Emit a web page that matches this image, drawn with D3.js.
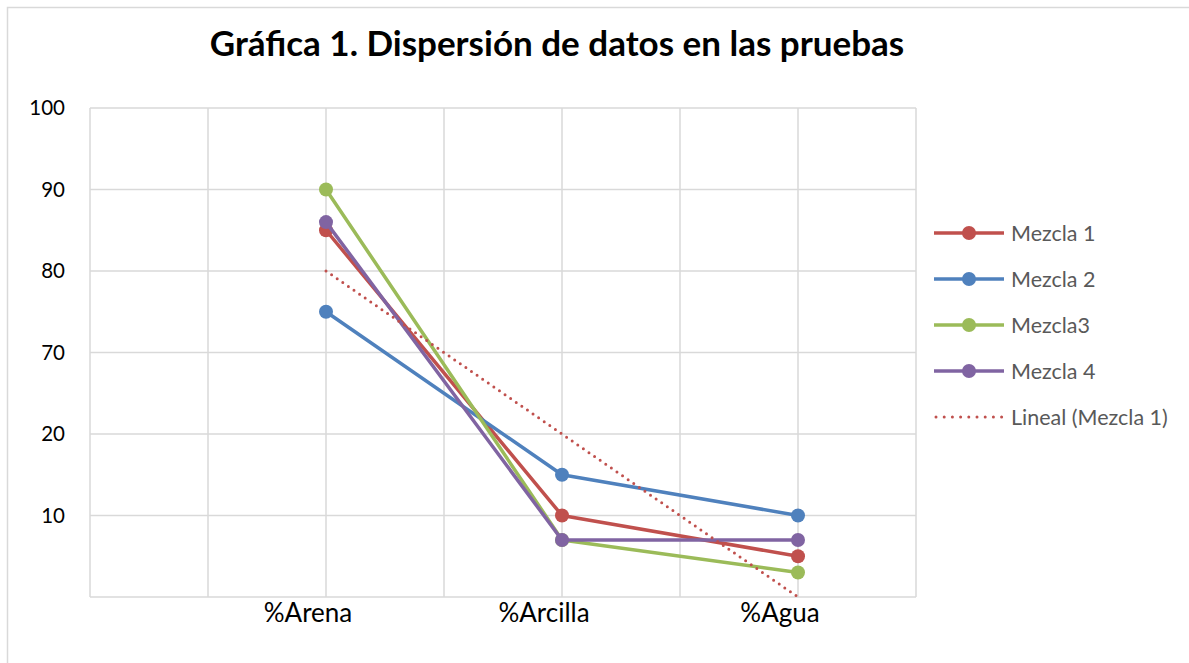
<!DOCTYPE html>
<html>
<head>
<meta charset="utf-8">
<script src="https://cdn.jsdelivr.net/npm/d3@7"></script>
<style>
  html, body { margin: 0; padding: 0; background: #fff; }
  svg { display: block; }
</style>
</head>
<body>
<svg id="chart" width="1189" height="663"></svg>
<script>
// Categories on the horizontal axis
const categories = ["%Arena", "%Arcilla", "%Agua"];

// Values per mixture
const mezcla1 = [85, 10, 5];
const mezcla2 = [75, 15, 10];
const mezcla3 = [90, 7, 3];
const mezcla4 = [86, 7, 7];

// Linear trend of Mezcla 1
const linealMezcla1 = [80, 20, 0];

// Vertical axis: unevenly valued ticks, evenly spaced
const yTicks = [0, 10, 20, 70, 80, 90, 100];
const yTickLabels = ["", "10", "20", "70", "80", "90", "100"];

const seriesNames = ["Mezcla 1", "Mezcla 2", "Mezcla3", "Mezcla 4"];
const seriesValues = [mezcla1, mezcla2, mezcla3, mezcla4];
const seriesColors = ["#C0504D", "#4F81BD", "#9BBB59", "#8064A2"];
const trendName = "Lineal (Mezcla 1)";

const svg = d3.select("#chart");
const font = "Lato, 'Open Sans', sans-serif";

const plot = { left: 90, right: 916, top: 108, bottom: 597 };

// chart frame
svg.append("rect")
  .attr("x", 7.5).attr("y", 7.5)
  .attr("width", 1200).attr("height", 700)
  .attr("fill", "#fff")
  .attr("stroke", "#D9D9D9").attr("stroke-width", 1.5);

// title
svg.append("text")
  .attr("x", 557).attr("y", 56)
  .attr("text-anchor", "middle")
  .attr("font-family", font)
  .attr("font-weight", 700)
  .attr("font-size", 35)
  .attr("fill", "#000")
  .text("Gráfica 1. Dispersión de datos en las pruebas");

// scales
const x = d3.scaleLinear().domain([-1, 2.5]).range([plot.left, plot.right]);
const y = d3.scaleLinear()
  .domain(yTicks)
  .range(yTicks.map((d, i) => plot.bottom - i * (plot.bottom - plot.top) / (yTicks.length - 1)));

// gridlines
const g = svg.append("g");
g.selectAll("line.h").data(yTicks).join("line")
  .attr("x1", plot.left).attr("x2", plot.right)
  .attr("y1", d => y(d)).attr("y2", d => y(d))
  .attr("stroke", "#D9D9D9").attr("stroke-width", 1.5);
g.selectAll("line.v").data(d3.range(-1, 2.51, 0.5)).join("line")
  .attr("x1", d => x(d)).attr("x2", d => x(d))
  .attr("y1", plot.top).attr("y2", plot.bottom)
  .attr("stroke", "#D9D9D9").attr("stroke-width", 1.5);

// y-axis labels
svg.append("g").selectAll("text").data(yTicks).join("text")
  .attr("x", 65).attr("y", d => y(d))
  .attr("dy", "0.36em")
  .attr("text-anchor", "end")
  .attr("font-family", font)
  .attr("font-size", 20.5)
  .attr("fill", "#000")
  .text((d, i) => yTickLabels[i]);

// x-axis labels
svg.append("g").selectAll("text").data(categories).join("text")
  .attr("x", (d, i) => x(i) - 18).attr("y", 622)
  .attr("text-anchor", "middle")
  .attr("font-family", font)
  .attr("font-size", 26)
  .attr("fill", "#000")
  .text(d => d);

const line = d3.line().x((d, i) => x(i)).y(d => y(d));

// series lines with markers
seriesValues.forEach((vals, s) => {
  const sg = svg.append("g");
  sg.append("path")
    .attr("d", line(vals))
    .attr("fill", "none")
    .attr("stroke", seriesColors[s])
    .attr("stroke-width", 3.5)
    .attr("stroke-linejoin", "round");
  sg.selectAll("circle").data(vals).join("circle")
    .attr("cx", (d, i) => x(i)).attr("cy", d => y(d))
    .attr("r", 7)
    .attr("fill", seriesColors[s]);
});

// dotted trend line
svg.append("path")
  .attr("d", line(linealMezcla1))
  .attr("fill", "none")
  .attr("stroke", "#C0504D")
  .attr("stroke-width", 3)
  .attr("stroke-linecap", "round")
  .attr("stroke-dasharray", "0 6.8");

// legend
const legendRows = seriesNames.map((n, i) => ({ name: n, color: seriesColors[i], trend: false }))
  .concat([{ name: trendName, color: "#C0504D", trend: true }]);
const lg = svg.append("g");
legendRows.forEach((r, i) => {
  const yy = 233 + i * 46;
  if (r.trend) {
    lg.append("line")
      .attr("x1", 936).attr("x2", 1002).attr("y1", yy).attr("y2", yy)
      .attr("stroke", r.color).attr("stroke-width", 3)
      .attr("stroke-linecap", "round").attr("stroke-dasharray", "0 8.2");
  } else {
    lg.append("line")
      .attr("x1", 934).attr("x2", 1004).attr("y1", yy).attr("y2", yy)
      .attr("stroke", r.color).attr("stroke-width", 3.5);
    lg.append("circle")
      .attr("cx", 969).attr("cy", yy).attr("r", 7).attr("fill", r.color);
  }
  lg.append("text")
    .attr("x", 1011).attr("y", yy).attr("dy", "0.36em")
    .attr("font-family", font).attr("font-size", 21.5)
    .attr("fill", "#595959")
    .text(r.name);
});
</script>
</body>
</html>
